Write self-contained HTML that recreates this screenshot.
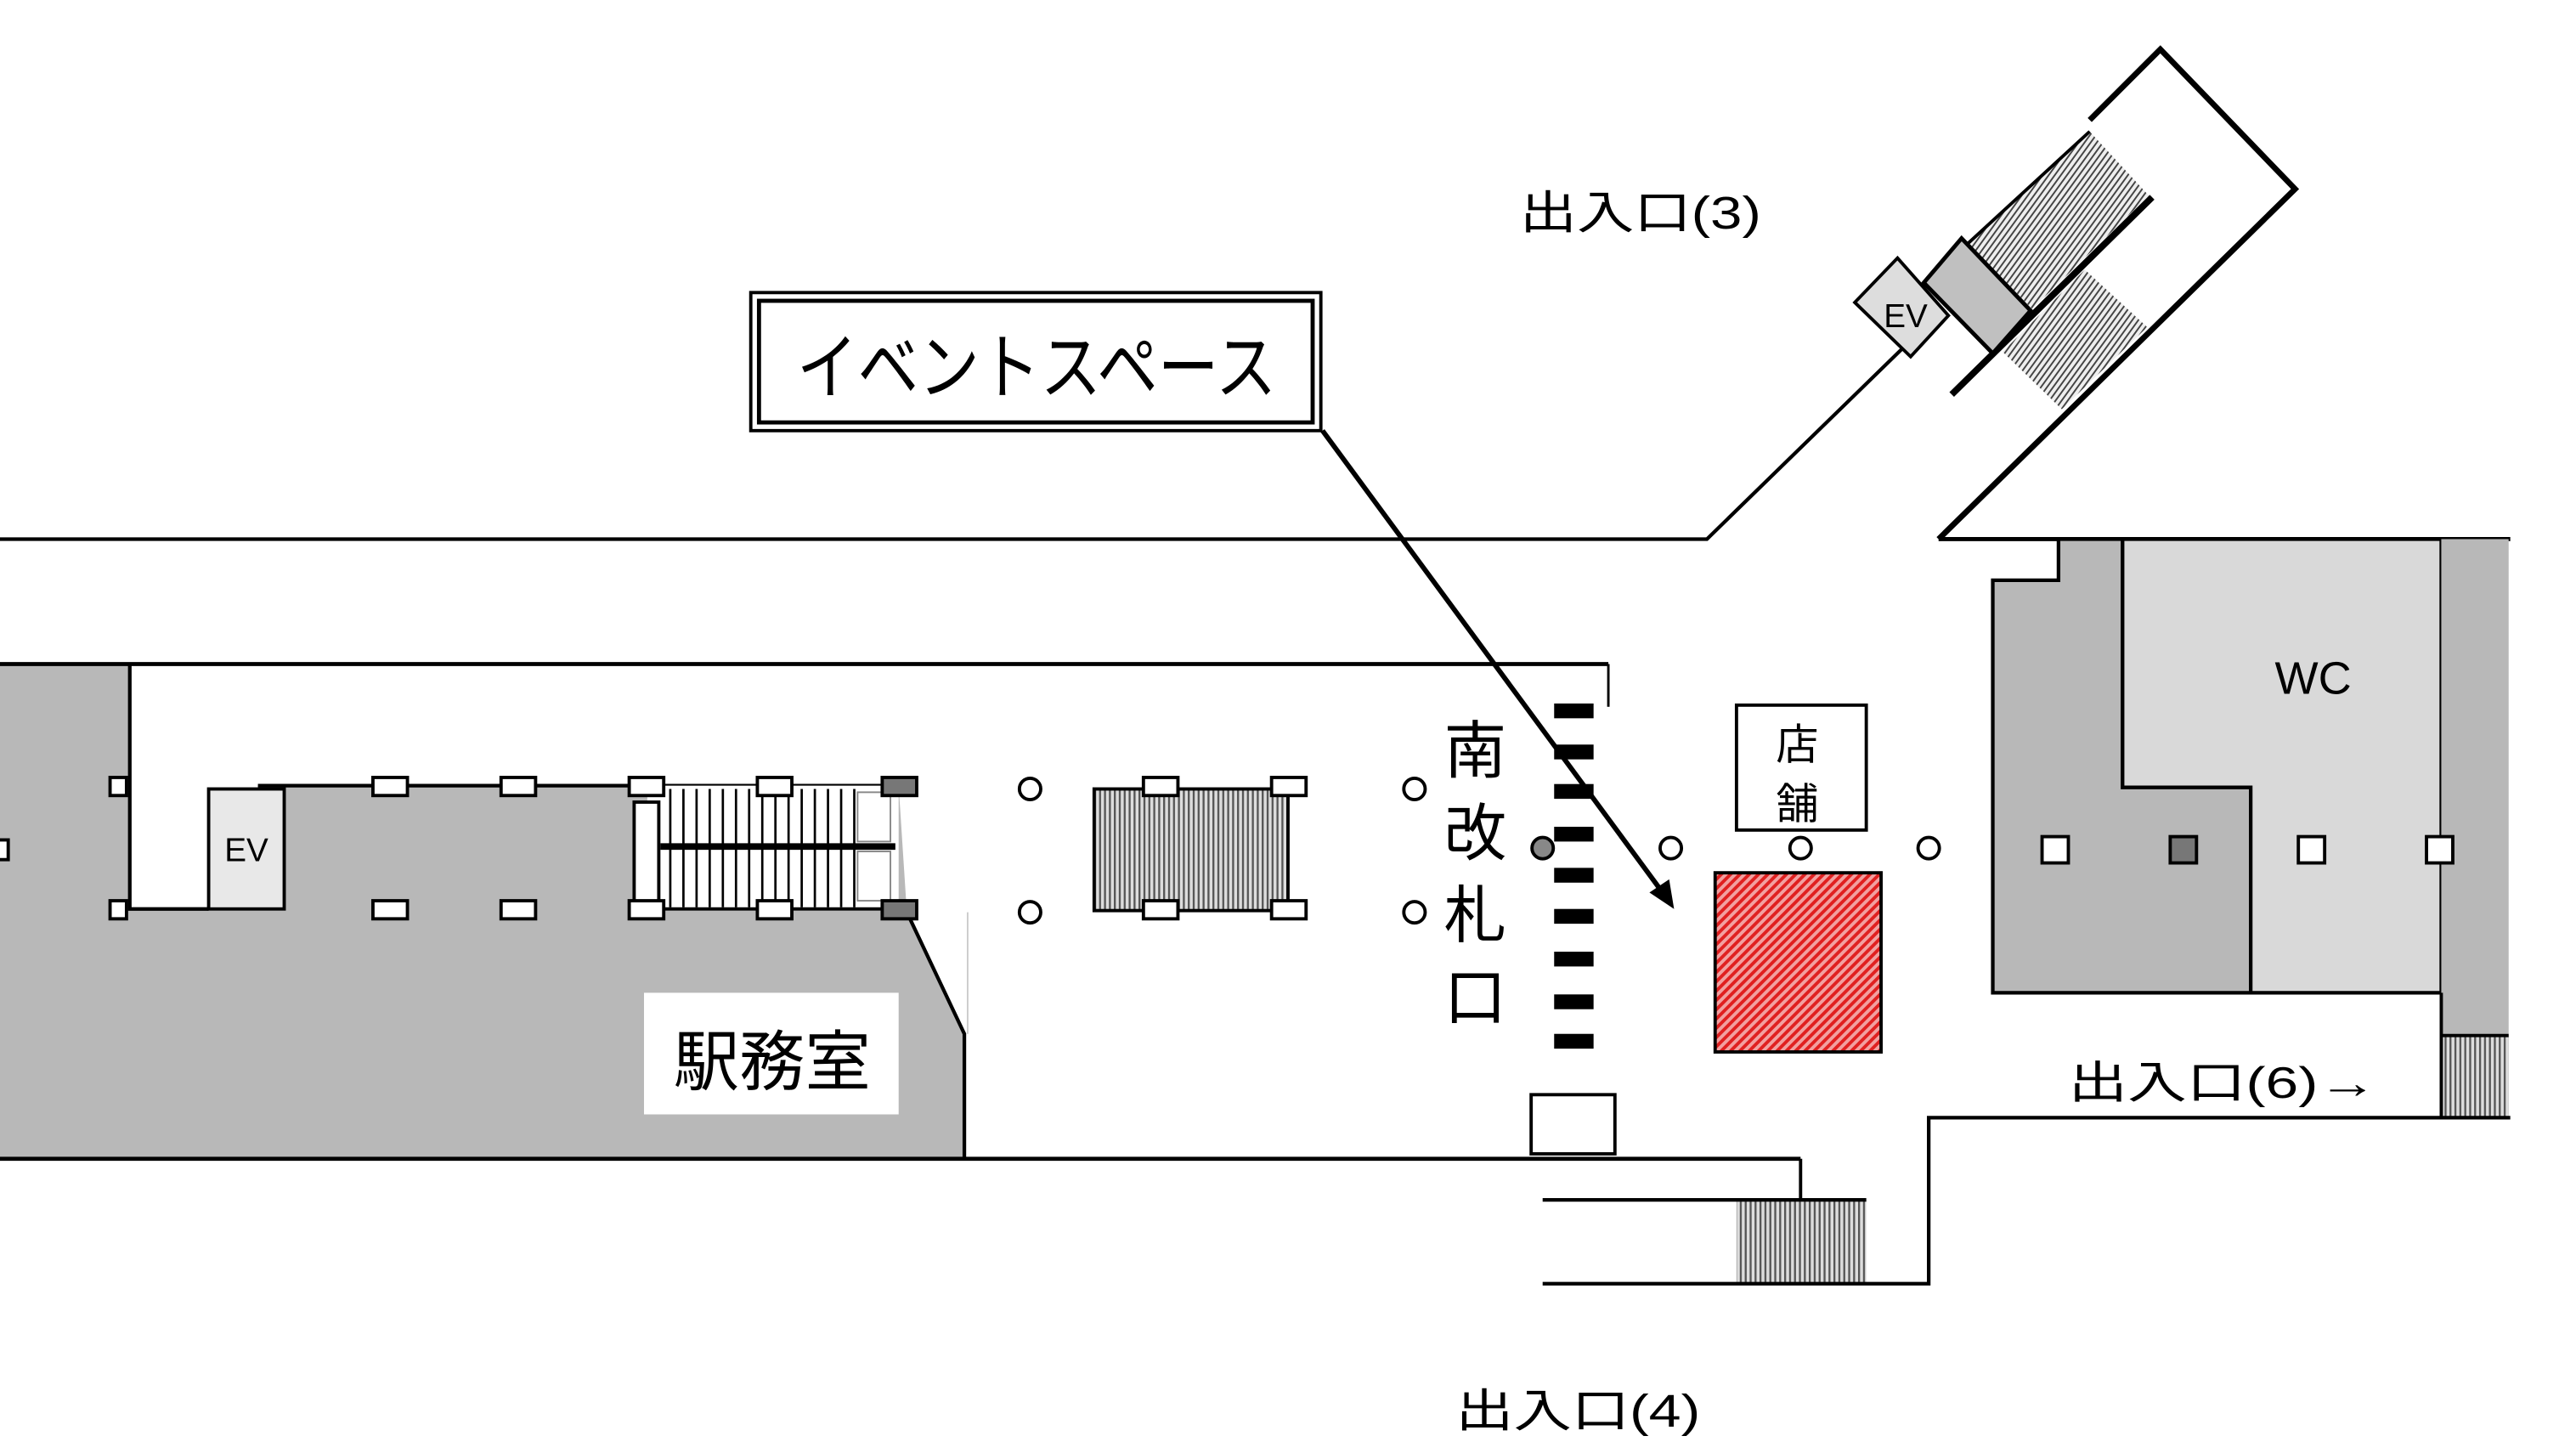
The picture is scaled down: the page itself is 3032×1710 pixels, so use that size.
<!DOCTYPE html>
<html><head><meta charset="utf-8"><style>html,body{margin:0;padding:0;background:#fff}svg{display:block}</style></head>
<body>
<svg width="3032" height="1710" viewBox="0 0 1568 884" preserveAspectRatio="none" xmlns="http://www.w3.org/2000/svg" font-family="'Liberation Sans','Noto Sans CJK JP',sans-serif">
<defs>
<pattern id="red" width="4" height="4" patternUnits="userSpaceOnUse" patternTransform="rotate(45)"><rect width="4" height="4" fill="#f2a0a0"/><rect width="2" height="4" fill="#e02020"/></pattern>
<pattern id="vh" width="3" height="3" patternUnits="userSpaceOnUse"><rect width="3" height="3" fill="#ddd"/><rect width="1.2" height="3" fill="#555"/></pattern>
<pattern id="esc" width="3" height="3" patternUnits="userSpaceOnUse" patternTransform="rotate(36)"><rect width="3" height="3" fill="#eee"/><rect width="1" height="3" fill="#444"/></pattern>
</defs>
<rect width="1568" height="884" fill="#fff"/>
<polyline points="0,328 1039,328 1158,212" fill="none" stroke="#000" stroke-width="2.2"/>
<polyline points="1180,328 1528,328" fill="none" stroke="#000" stroke-width="2.5"/>
<polygon points="1198,148 1272,80 1308,119 1237,188" fill="url(#esc)"/>
<polygon points="1219,214 1269,164 1307,199 1255,249" fill="url(#esc)"/>
<polyline points="1272,73 1315,30 1397,115 1180,328" fill="none" stroke="#000" stroke-width="3.5"/>
<line x1="1272" y1="80" x2="1198" y2="148" stroke="#000" stroke-width="2"/>
<line x1="1310" y1="120" x2="1188" y2="240" stroke="#000" stroke-width="4"/>
<polygon points="1171,172 1194,145 1236,189 1213,215" fill="#c0c0c0" stroke="#000" stroke-width="2.5"/>
<polygon points="1155,157 1186,192 1163,217 1129,184" fill="#ddd" stroke="#000" stroke-width="2"/>
<text x="1160" y="199" font-size="20" text-anchor="middle">EV</text>
<text x="925" y="139" font-size="28" textLength="147" lengthAdjust="spacingAndGlyphs">出入口(3)</text>
<rect x="0" y="404" width="79" height="301" fill="#b8b8b8"/>
<polygon points="79,553 157,553 157,478 547,478 552,555 587,629 587,705 0,705 0,553" fill="#b8b8b8"/>
<line x1="0" y1="404" x2="979" y2="404" stroke="#000" stroke-width="2.5"/>
<line x1="979" y1="404" x2="979" y2="430" stroke="#000" stroke-width="1.5"/>
<polyline points="79,404 79,553 127,553" fill="none" stroke="#000" stroke-width="2.2"/>
<line x1="157" y1="478" x2="547" y2="478" stroke="#000" stroke-width="2.2"/>
<rect x="127" y="480" width="46" height="73" fill="#e8e8e8" stroke="#000" stroke-width="2"/>
<text x="150" y="524" font-size="20" text-anchor="middle">EV</text>
<rect x="394" y="478" width="153" height="75" fill="#fff"/>
<g stroke="#000" stroke-width="1.4">
<line x1="408" y1="480" x2="408" y2="552"/><line x1="416" y1="480" x2="416" y2="552"/><line x1="424" y1="480" x2="424" y2="552"/><line x1="432" y1="480" x2="432" y2="552"/><line x1="440" y1="480" x2="440" y2="552"/><line x1="448" y1="480" x2="448" y2="552"/><line x1="456" y1="480" x2="456" y2="552"/><line x1="464" y1="480" x2="464" y2="552"/><line x1="472" y1="480" x2="472" y2="552"/><line x1="480" y1="480" x2="480" y2="552"/><line x1="488" y1="480" x2="488" y2="552"/><line x1="496" y1="480" x2="496" y2="552"/><line x1="504" y1="480" x2="504" y2="552"/><line x1="512" y1="480" x2="512" y2="552"/><line x1="520" y1="480" x2="520" y2="552"/>
</g>
<line x1="402" y1="515" x2="545" y2="515" stroke="#000" stroke-width="4"/>
<rect x="386" y="488" width="15" height="62" fill="#fff" stroke="#000" stroke-width="2"/>
<rect x="522" y="482" width="20" height="30" fill="#fff" stroke="#888" stroke-width="1"/>
<rect x="522" y="518" width="20" height="30" fill="#fff" stroke="#888" stroke-width="1"/>
<line x1="394" y1="553" x2="547" y2="553" stroke="#000" stroke-width="2"/>
<polyline points="552,555 587,629 587,705" fill="none" stroke="#000" stroke-width="2.2"/>
<line x1="589" y1="555" x2="589" y2="629" stroke="#ccc" stroke-width="1"/>
<rect x="392" y="604" width="155" height="74" fill="#fff"/>
<text x="470" y="660" font-size="40" text-anchor="middle">駅務室</text>
<g fill="#fff" stroke="#000" stroke-width="2">
<rect x="67" y="473" width="10" height="11"/><rect x="67" y="548" width="10" height="11"/>
<rect x="-4" y="511" width="9" height="12"/>
<rect x="227" y="473" width="21" height="11"/><rect x="305" y="473" width="21" height="11"/><rect x="383" y="473" width="21" height="11"/><rect x="461" y="473" width="21" height="11"/>
<rect x="227" y="548" width="21" height="11"/><rect x="305" y="548" width="21" height="11"/><rect x="383" y="548" width="21" height="11"/><rect x="461" y="548" width="21" height="11"/>
<rect x="537" y="473" width="21" height="11" fill="#777"/><rect x="537" y="548" width="21" height="11" fill="#777"/>
</g>
<rect x="666" y="480" width="118" height="74" fill="url(#vh)" stroke="#000" stroke-width="2"/>
<g fill="#fff" stroke="#000" stroke-width="2">
<rect x="696" y="473" width="21" height="11"/><rect x="774" y="473" width="21" height="11"/>
<rect x="696" y="548" width="21" height="11"/><rect x="774" y="548" width="21" height="11"/>
</g>
<g fill="#fff" stroke="#000" stroke-width="2">
<circle cx="627" cy="480" r="6.5"/><circle cx="627" cy="555" r="6.5"/>
<circle cx="861" cy="480" r="6.5"/><circle cx="861" cy="555" r="6.5"/>
<circle cx="939" cy="516" r="6.5" fill="#888"/>
<circle cx="1017" cy="516" r="6.5"/><circle cx="1096" cy="516" r="6.5"/><circle cx="1174" cy="516" r="6.5"/>
</g>
<g fill="#000">
<rect x="946" y="428" width="24" height="9"/><rect x="946" y="453" width="24" height="9"/><rect x="946" y="477" width="24" height="9"/><rect x="946" y="503" width="24" height="9"/><rect x="946" y="528" width="24" height="9"/><rect x="946" y="553" width="24" height="9"/><rect x="946" y="579" width="24" height="9"/><rect x="946" y="605" width="24" height="9"/><rect x="946" y="629" width="24" height="9"/>
</g>
<g font-size="38" text-anchor="middle"><text x="898" y="470">南</text><text x="898" y="520">改</text><text x="898" y="570">札</text><text x="898" y="620">口</text></g>
<rect x="932" y="666" width="51" height="36" fill="#fff" stroke="#000" stroke-width="2"/>
<rect x="1057" y="429" width="79" height="76" fill="#fff" stroke="#000" stroke-width="2"/>
<text x="1094" y="462" font-size="26" text-anchor="middle">店</text>
<text x="1094" y="498" font-size="26" text-anchor="middle">舗</text>
<rect x="1044" y="531" width="101" height="109" fill="url(#red)" stroke="#000" stroke-width="2"/>
<polygon points="1213,353 1253,353 1253,328 1292,328 1292,479 1370,479 1370,604 1213,604" fill="#b8b8b8" stroke="#000" stroke-width="2.2"/>
<polygon points="1292,328 1486,328 1486,604 1370,604 1370,479 1292,479" fill="#d9d9d9" stroke="#000" stroke-width="2.2"/>
<rect x="1486" y="328" width="41" height="302" fill="#b8b8b8"/>
<rect x="1486" y="630" width="41" height="50" fill="url(#vh)"/>
<line x1="1486" y1="604" x2="1486" y2="680" stroke="#000" stroke-width="2"/>
<line x1="1486" y1="630" x2="1527" y2="630" stroke="#000" stroke-width="2"/>
<text x="1408" y="422" font-size="28" text-anchor="middle">WC</text>
<g fill="#fff" stroke="#000" stroke-width="2">
<rect x="1243" y="509" width="16" height="16"/><rect x="1321" y="509" width="16" height="16" fill="#777"/><rect x="1399" y="509" width="16" height="16"/><rect x="1477" y="509" width="16" height="16"/>
</g>
<text x="1259" y="668" font-size="27" textLength="188" lengthAdjust="spacingAndGlyphs">出入口(6)→</text>
<line x1="0" y1="705" x2="1096" y2="705" stroke="#000" stroke-width="2.5"/>
<line x1="1096" y1="705" x2="1096" y2="730" stroke="#000" stroke-width="2"/>
<rect x="1057" y="730" width="79" height="51" fill="url(#vh)"/>
<line x1="939" y1="730" x2="1136" y2="730" stroke="#000" stroke-width="2.2"/>
<polyline points="939,781 1174,781 1174,680 1528,680" fill="none" stroke="#000" stroke-width="2.2"/>
<text x="886" y="868" font-size="28" textLength="149" lengthAdjust="spacingAndGlyphs">出入口(4)</text>
<rect x="457" y="178" width="347" height="84" fill="#fff" stroke="#000" stroke-width="2"/>
<rect x="462" y="183" width="337" height="74" fill="none" stroke="#000" stroke-width="2.5"/>
<text x="485" y="239" font-size="44" textLength="292" lengthAdjust="spacingAndGlyphs">イベントスペース</text>
<line x1="805" y1="262" x2="1012" y2="543" stroke="#000" stroke-width="3"/>
<polygon points="1019,553 1004,543 1016,535" fill="#000"/>
</svg>
</body></html>
